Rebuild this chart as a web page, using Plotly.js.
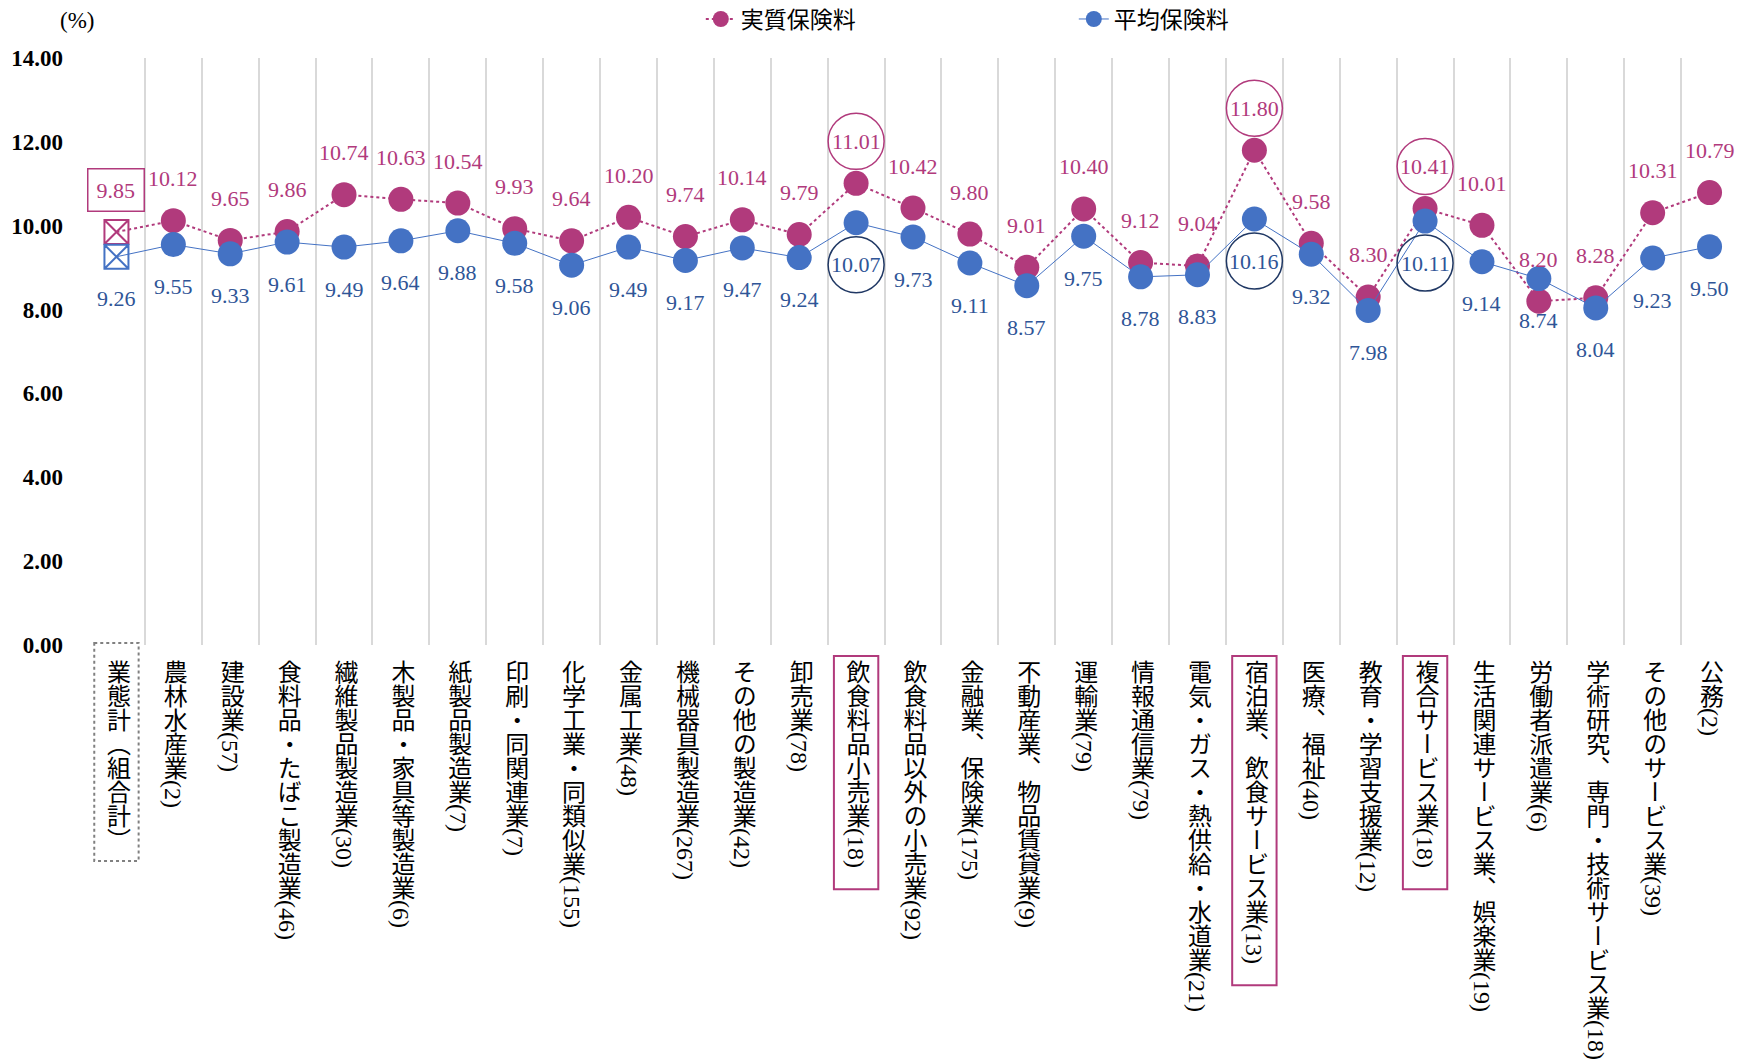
<!DOCTYPE html>
<html>
<head>
<meta charset="utf-8">
<script src="https://cdn.plot.ly/plotly-3.0.1.min.js"></script>
<style>body{margin:0;background:#fff;}</style>
</head>
<body>
<div id="chart" style="width:1750px;height:1063px;"></div>
<script>
// ---- data ----
const categories = [
  '業態計（組合計）','農林水産業(2)','建設業(57)','食料品・たばこ製造業(46)','繊維製品製造業(30)',
  '木製品・家具等製造業(6)','紙製品製造業(7)','印刷・同関連業(7)','化学工業・同類似業(155)','金属工業(48)',
  '機械器具製造業(267)','その他の製造業(42)','卸売業(78)','飲食料品小売業(18)','飲食料品以外の小売業(92)',
  '金融業、保険業(175)','不動産業、物品賃貸業(9)','運輸業(79)','情報通信業(79)','電気・ガス・熱供給・水道業(21)',
  '宿泊業、飲食サービス業(13)','医療、福祉(40)','教育・学習支援業(12)','複合サービス業(18)','生活関連サービス業、娯楽業(19)',
  '労働者派遣業(6)','学術研究、専門・技術サービス業(18)','その他のサービス業(39)','公務(2)'
];
const realPremium = [9.85,10.12,9.65,9.86,10.74,10.63,10.54,9.93,9.64,10.20,9.74,10.14,9.79,11.01,10.42,9.80,9.01,10.40,9.12,9.04,11.80,9.58,8.30,10.41,10.01,8.20,8.28,10.31,10.79];
const avgPremium  = [9.26,9.55,9.33,9.61,9.49,9.64,9.88,9.58,9.06,9.49,9.17,9.47,9.24,10.07,9.73,9.11,8.57,9.75,8.78,8.83,10.16,9.32,7.98,10.11,9.14,8.74,8.04,9.23,9.50];
const seriesNames = ['実質保険料','平均保険料'];
const yTickVals = [0,2,4,6,8,10,12,14];
const highlightIdx = [13,20,23];   // circled values / framed labels
const totalIdx = 0;                // 業態計 (組合計)

// ---- style ----
const MAG = '#B13A7C', BLUE = '#4472C4', BLUE_TXT = '#2F5597', BLUE_DARK = '#203864';
const SERIF = 'Liberation Serif, "Noto Sans CJK JP", serif';
const LABEL_FS = 22, LABEL_SHIFT = 42, CIRC_R = 28;
const TICK_FS = 24, TICK_START = 18;

const sizes = categories.map((c,i)=> i===totalIdx ? 0 : 25);

const traces = [
  {x:categories, y:realPremium, name:seriesNames[0], type:'scatter', mode:'lines+markers',
   line:{color:MAG, width:2, dash:'dot'}, marker:{color:MAG, size:sizes, opacity:1, line:{width:0}}},
  {x:categories, y:avgPremium, name:seriesNames[1], type:'scatter', mode:'lines+markers',
   line:{color:BLUE, width:1}, marker:{color:BLUE, size:sizes, opacity:1, line:{width:0}}},
  {x:[categories[totalIdx]], y:[realPremium[totalIdx]], type:'scatter', mode:'markers', showlegend:false,
   marker:{symbol:'square-x-open', color:MAG, size:24, line:{width:2, color:MAG}}},
  {x:[categories[totalIdx]], y:[avgPremium[totalIdx]], type:'scatter', mode:'markers', showlegend:false,
   marker:{symbol:'square-x-open', color:BLUE, size:24, line:{width:2, color:BLUE}}}
];

const annotations = [];
categories.forEach((c,i)=>{
  const a1 = {x:c, y:realPremium[i], text:realPremium[i].toFixed(2), showarrow:false, yshift:LABEL_SHIFT,
    font:{family:SERIF, size:LABEL_FS, color:MAG}};
  if(i===totalIdx){ a1.bordercolor = MAG; a1.borderwidth = 1.5; a1.borderpad = 8; }
  annotations.push(a1);
  annotations.push({x:c, y:avgPremium[i], text:avgPremium[i].toFixed(2), showarrow:false, yshift:-LABEL_SHIFT,
    font:{family:SERIF, size:LABEL_FS, color:BLUE_TXT}});
});
annotations.push({xref:'paper', yref:'paper', x:0, y:1, xshift:-11, yshift:38, xanchor:'center', yanchor:'middle',
  text:'(%)', showarrow:false, font:{family:SERIF, size:23, color:'#000'}});

const shapes = [];
highlightIdx.forEach(i=>{
  shapes.push({type:'circle', xref:'x', yref:'y', xsizemode:'pixel', ysizemode:'pixel',
    xanchor:categories[i], yanchor:realPremium[i], x0:-CIRC_R, x1:CIRC_R, y0:LABEL_SHIFT-CIRC_R, y1:LABEL_SHIFT+CIRC_R,
    line:{color:MAG, width:1.5}});
  shapes.push({type:'circle', xref:'x', yref:'y', xsizemode:'pixel', ysizemode:'pixel',
    xanchor:categories[i], yanchor:avgPremium[i], x0:-CIRC_R, x1:CIRC_R, y0:-LABEL_SHIFT-CIRC_R, y1:-LABEL_SHIFT+CIRC_R,
    line:{color:BLUE_DARK, width:1.5}});
});
function labelLen(s){
  let L = 0;
  for(const ch of s){ L += (ch.charCodeAt(0) < 0x2000) ? (/[()]/.test(ch) ? 0.34 : 0.5)*TICK_FS : TICK_FS; }
  return L;
}
function labelBox(i, color, dash, top, pad){
  shapes.push({type:'rect', xref:'x', yref:'paper', ysizemode:'pixel', yanchor:0,
    x0:i-0.39, x1:i+0.39, y0:top, y1:-(TICK_START+labelLen(categories[i])+pad),
    line:{color:color, width:2, dash:dash||'solid'}});
}
labelBox(totalIdx, '#808080', 'dot', 2, 6);
highlightIdx.forEach(i=>labelBox(i, MAG, null, -11, 18));

const layout = {
  width:1750, height:1063,
  margin:{l:88, r:12, t:58, b:418, autoexpand:false},
  paper_bgcolor:'#fff', plot_bgcolor:'#fff',
  showlegend:true,
  legend:{orientation:'h', x:0.3714, y:1.0664, xanchor:'left', yanchor:'middle', entrywidth:328,
    font:{family:'"Noto Sans CJK JP", sans-serif', size:23, color:'#000'}},
  hovermode:false,
  xaxis:{type:'category', tickson:'boundaries', showgrid:true, gridcolor:'#D9D9D9', gridwidth:2,
    showline:false, zeroline:false, ticks:'', tickangle:0, tickmode:'linear', dtick:1, automargin:false,
    range:[-0.5, categories.length-0.5], ticklabelstandoff:-10,
    tickfont:{family:SERIF, size:TICK_FS, color:'#000'}},
  yaxis:{range:[0,14], tickvals:yTickVals, tickformat:'.2f', showgrid:false, zeroline:false, showline:false,
    ticks:'', ticklabelstandoff:24, automargin:false,
    tickfont:{family:SERIF, size:23, color:'#000', weight:'bold'}},
  annotations:annotations, shapes:shapes
};

function verticalLabels(){
  document.querySelectorAll('.xtick text').forEach(t=>{
    t.style.writingMode = 'vertical-rl';
    t.setAttribute('text-anchor','start');
  });
}
const gd = document.getElementById('chart');
Plotly.newPlot(gd, traces, layout, {displayModeBar:false, staticPlot:true}).then(()=>{
  verticalLabels();
  gd.on('plotly_afterplot', verticalLabels);
});
</script>
</body>
</html>
